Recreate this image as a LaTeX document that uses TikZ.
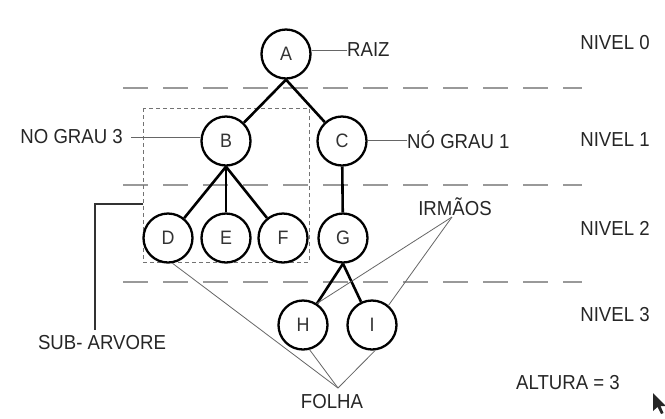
\documentclass[tikz,border=0pt]{standalone}
\usepackage{fontspec}
\setmainfont{Liberation Sans}
\newfontfamily\lblfont[FakeStretch=0.92]{Liberation Sans}
\usetikzlibrary{shapes.geometric}
\begin{document}
\begin{tikzpicture}[x=1bp,y=-1bp,
  tnode/.style={ellipse, draw=black, fill=white, line width=2.3bp, minimum width=49bp, minimum height=49bp, inner sep=0pt, text=black!80, font=\lblfont\fontsize{19.5}{19.5}\selectfont},
  lbl/.style={text=black!85, font=\lblfont\fontsize{20.3}{20.3}\selectfont, inner sep=0pt},
  edge/.style={line width=2.6bp, black},
  note/.style={line width=0.8bp, black!60},
  bracket/.style={line width=1.1bp, black!80},
  levelline/.style={line width=1.8bp, black!40, dash pattern=on 25bp off 15bp},
  subbox/.style={line width=1bp, black!55, dash pattern=on 4bp off 3bp}]
\useasboundingbox (0,0) rectangle (665,418);
\fill[white] (0,0) rectangle (665,418);

% level separators
\draw[levelline] (123,88) -- (582,88);
\draw[levelline] (123,185) -- (582,185);
\draw[levelline] (123,282) -- (582,282);

% sub-tree box
\draw[subbox] (143,108) rectangle (309,262);

% tree nodes
\node[tnode] (A) at (286,54) {A};
\node[tnode] (B) at (226,141) {B};
\node[tnode] (C) at (342,141) {C};
\node[tnode] (D) at (168,238) {D};
\node[tnode] (E) at (226,238) {E};
\node[tnode] (F) at (283,238) {F};
\node[tnode] (G) at (343,238) {G};
\node[tnode] (H) at (303,325) {H};
\node[tnode] (I) at (372,325) {I};

% tree edges
\draw[edge] (A.south) -- (B);
\draw[edge] (A.south) -- (C);
\draw[edge] (B.south) -- (D);
\draw[edge] (B.south) -- (E);
\draw[edge] (B.south) -- (F);
\draw[edge] (C) -- (G);
\draw[edge] (G.south) -- (H);
\draw[edge] (G.south) -- (I);

% labels
\node[lbl, anchor=west] (raiz) at (347,50) {RAIZ};
\node[lbl, anchor=east] (ng3) at (123,137) {NO GRAU 3};
\node[lbl, anchor=west] (ng1) at (407,140) {NÓ GRAU 1};
\node[lbl] (n0) at (615,43) {NIVEL 0};
\node[lbl] (n1) at (615,140) {NIVEL 1};
\node[lbl] (n2) at (615,228) {NIVEL 2};
\node[lbl] (n3) at (615,315) {NIVEL 3};
\node[lbl] (irm) at (455,207) {IRMÃOS};
\node[lbl] (folha) at (332,402) {FOLHA};
\node[lbl] (sub) at (102,343) {SUB- ARVORE};
\node[lbl] (alt) at (568,383) {ALTURA = 3};

% annotation lines
\draw[note] (raiz.west) -- (raiz.west -| A.east);
\draw[note] ([xshift=8bp]ng3.east) -- (ng3.east -| B.west);
\draw[note] (ng1.west) -- (ng1.west -| C.east);

\coordinate (irmapex) at (452,217);
\draw[note] (irmapex) -- (H.57);
\draw[note] (irmapex) -- (I.50);

\coordinate (fapex) at (338,388);
\draw[note] (fapex) -- (D.-80);
\draw[note] (fapex) -- (H.-75);
\draw[note] (fapex) -- (I.-83);

\coordinate (sbs) at (143,204);
\coordinate (sbe) at (95,330);
\draw[bracket] (sbs) -| (sbe);

% mouse pointer
\fill[black!85] (653,393) -- (653,411) -- (657.5,407) -- (661,414) -- (663.5,413) -- (660.5,406) -- (666,406) -- cycle;
\end{tikzpicture}
\end{document}
